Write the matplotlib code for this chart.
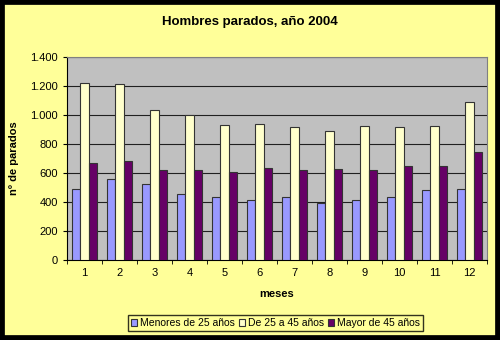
import numpy as np
import matplotlib
matplotlib.use('Agg')
import matplotlib.pyplot as plt
from matplotlib.ticker import FuncFormatter, FixedLocator
from matplotlib.patches import Rectangle

plt.rcParams['font.family'] = ['Liberation Sans', 'DejaVu Sans']

# datos
meses = [1, 2, 3, 4, 5, 6, 7, 8, 9, 10, 11, 12]
menores_25 = [492, 556, 522, 453, 434, 411, 434, 391, 411, 434, 483, 492]
de_25_a_45 = [1223, 1214, 1032, 998, 931, 940, 917, 892, 922, 917, 926, 1090]
mayor_45 = [669, 683, 621, 619, 605, 632, 623, 628, 623, 646, 650, 745]

series = ['Menores de 25 años', 'De 25 a 45 años', 'Mayor de 45 años']
colores = ['#9999FF', '#FFFFCC', '#660066']

fig = plt.figure(figsize=(5, 3.4), dpi=100, facecolor='#FFFF99')
fig.patches.append(Rectangle((0, 0), 1, 1, transform=fig.transFigure,
                             fill=False, edgecolor='black', linewidth=7))

ax = fig.add_axes([67/500, 1-260/340, 420/500, 203/340])
ax.set_facecolor('#C0C0C0')

x = np.arange(len(meses))
w = 0.23
for i, (vals, col, nom) in enumerate(zip([menores_25, de_25_a_45, mayor_45], colores, series)):
    ax.bar(x + (i - 1) * w, vals, w, color=col, edgecolor='#333333',
           linewidth=0.8, label=nom, zorder=3)

ax.set_xlim(-0.5, len(meses) - 0.5)
ax.set_ylim(0, 1400)
ax.set_yticks(range(0, 1401, 200))
ax.yaxis.set_major_formatter(FuncFormatter(lambda v, p: f'{int(v):,}'.replace(',', '.')))
ax.grid(axis='y', color='#202020', linewidth=0.8, zorder=1)

ax.set_xticks(x)
ax.set_xticklabels([str(m) for m in meses])
ax.xaxis.set_minor_locator(FixedLocator(np.arange(-0.5, len(meses), 1)))
ax.tick_params(axis='x', which='major', length=0, labelsize=8, pad=6)
ax.tick_params(axis='x', which='minor', length=3, direction='out')
ax.tick_params(axis='y', labelsize=8, length=3, direction='out')

for s in ['top', 'right']:
    ax.spines[s].set_color('#808080')
for s in ['left', 'bottom']:
    ax.spines[s].set_color('black')

ax.set_ylabel('nº de parados', fontsize=8, fontweight='bold', labelpad=8)
ax.set_xlabel('meses', fontsize=8, fontweight='bold', labelpad=8)
fig.text(0.5, 1-22/340, 'Hombres parados, año 2004', ha='center', va='center',
         fontsize=9.5, fontweight='bold')

leg = fig.legend(loc='center', bbox_to_anchor=(0.551, 1-323/340), ncol=3,
                 fontsize=7.5, frameon=True, fancybox=False, edgecolor='black',
                 handlelength=0.6, handleheight=0.6, handletextpad=0.25,
                 columnspacing=0.4, borderpad=0.25)
leg.get_frame().set_facecolor('#FFFF99')

fig.savefig('out.png', dpi=100, facecolor=fig.get_facecolor())
